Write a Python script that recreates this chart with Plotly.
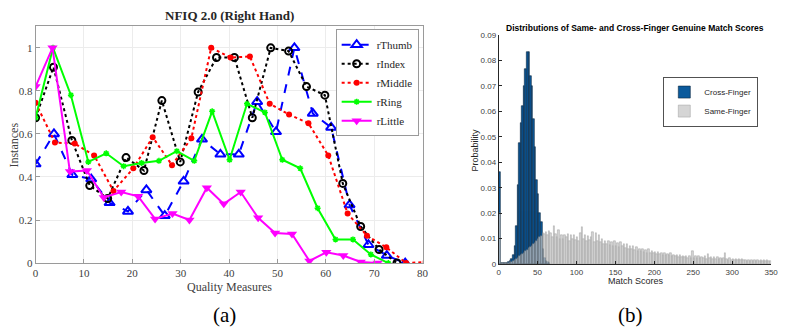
import plotly.graph_objects as go

# ---------------- (a) NFIQ 2.0 data ----------------
thumb_x = [0, 3.8, 7.6, 11.5, 15.3, 19.1, 22.9, 26.7, 30.6, 34.4, 38.2, 42.0, 45.8, 49.7, 53.5, 57.3, 61.1, 64.9, 68.8, 72.6, 76.4]
thumb_y = [0.46, 0.60, 0.41, 0.39, 0.28, 0.24, 0.34, 0.22, 0.38, 0.575, 0.505, 0.505, 0.75, 0.61, 1.0, 0.695, 0.63, 0.27, 0.085, 0.035, 0.0]

index_x = [0, 3.7, 7.5, 11.2, 14.9, 18.7, 22.4, 26.1, 29.9, 33.6, 37.4, 41.1, 44.8, 48.6, 52.3, 56.0, 59.8, 63.5, 67.2, 71.0, 74.7]
index_y = [0.675, 0.91, 0.57, 0.36, 0.30, 0.49, 0.43, 0.755, 0.47, 0.795, 0.955, 0.955, 0.675, 1.0, 0.985, 0.82, 0.78, 0.37, 0.17, 0.063, 0.0]

middle_x = [0, 4.0, 8.1, 12.1, 16.1, 20.2, 24.2, 28.2, 32.2, 36.3, 40.3, 44.3, 48.4, 52.4, 56.4, 60.5, 64.5, 68.5, 72.5, 76.6, 80.6]
middle_y = [0.745, 0.56, 0.555, 0.50, 0.335, 0.44, 0.585, 0.455, 0.58, 1.0, 0.955, 0.96, 0.74, 0.69, 0.65, 0.50, 0.23, 0.127, 0.073, 0.0, 0.005]

ring_x = [0, 3.6, 7.3, 10.9, 14.6, 18.2, 21.9, 25.5, 29.2, 32.8, 36.5, 40.1, 43.7, 47.4, 51.0, 54.7, 58.3, 62.0, 65.6, 69.3, 72.9]
ring_y = [0.675, 1.0, 0.78, 0.47, 0.51, 0.45, 0.465, 0.475, 0.52, 0.475, 0.705, 0.48, 0.74, 0.70, 0.48, 0.44, 0.255, 0.11, 0.11, 0.04, 0.0]

little_x = [0, 3.5, 7.1, 10.6, 14.1, 17.7, 21.2, 24.7, 28.3, 31.8, 35.4, 38.9, 42.4, 46.0, 49.5, 53.0, 56.6, 60.1, 63.6, 67.2, 70.7]
little_y = [0.82, 1.0, 0.425, 0.43, 0.305, 0.33, 0.31, 0.205, 0.23, 0.20, 0.35, 0.275, 0.33, 0.21, 0.14, 0.135, 0.01, 0.05, 0.035, 0.005, 0.0]

# ---------------- (b) Histogram data (bin width 2) ----------------
cross_x = [1, 3, 5, 7, 9, 11, 13, 15, 17, 19, 21, 23, 25, 27, 29, 31, 33, 35, 37, 39,
           41, 43, 45, 47, 49, 51, 53, 55, 57, 59, 61, 63, 65]
cross_y = [0.036, 0.0004, 0.0003, 0.0003, 0.0003, 0.0004, 0.0006, 0.0010, 0.0018, 0.0035,
           0.0070, 0.0150, 0.0310, 0.0475, 0.0555, 0.0620, 0.0700, 0.0765, 0.0835, 0.0835,
           0.0740, 0.0700, 0.0570, 0.0460, 0.0330, 0.0275, 0.0200, 0.0165, 0.0060, 0.0025,
           0.0012, 0.0006, 0.0003]

same_x = [1, 3, 5, 7, 9, 11, 13, 15, 17, 19, 21, 23, 25, 27, 29, 31, 33, 35, 37, 39,
          41, 43, 45, 47, 49, 51, 53, 55, 57, 59, 61, 63, 65, 67, 69, 71, 73, 75, 77, 79,
          81, 83, 85, 87, 89, 91, 93, 95, 97, 99, 101, 103, 105, 107, 109, 111, 113, 115, 117, 119,
          121, 123, 125, 127, 129, 131, 133, 135, 137, 139, 141, 143, 145, 147, 149, 151, 153, 155, 157, 159,
          161, 163, 165, 167, 169, 171, 173, 175, 177, 179, 181, 183, 185, 187, 189, 191, 193, 195, 197, 199,
          201, 203, 205, 207, 209, 211, 213, 215, 217, 219, 221, 223, 225, 227, 229, 231, 233, 235, 237, 239,
          241, 243, 245, 247, 249, 251, 253, 255, 257, 259, 261, 263, 265, 267, 269, 271, 273, 275, 277, 279,
          281, 283, 285, 287, 289, 291, 293, 295, 297, 299, 301, 303, 305, 307, 309, 311, 313, 315, 317, 319,
          321, 323, 325, 327, 329, 331, 333, 335, 337, 339, 341, 343, 345, 347, 349]
same_y = [0.020, 0.0002, 0.0002, 0.0002, 0.0003, 0.0004, 0.0005, 0.0007, 0.0009, 0.0012,
          0.0016, 0.0020, 0.0025, 0.0030, 0.0034, 0.0040, 0.0045, 0.0050, 0.0056, 0.0062,
          0.0066, 0.0072, 0.0078, 0.0084, 0.0090, 0.0098, 0.0105, 0.0110, 0.0120, 0.0118,
          0.0125, 0.0112, 0.0130, 0.0120, 0.0108, 0.0150, 0.0118, 0.0105, 0.0135, 0.0100,
          0.0112, 0.0098, 0.0115, 0.0105, 0.0118, 0.0092, 0.0112, 0.0100, 0.0115, 0.0095,
          0.0108, 0.0092, 0.0120, 0.0145, 0.0098, 0.0112, 0.0090, 0.0110, 0.0095, 0.0105,
          0.0125, 0.0088, 0.0120, 0.0092, 0.0115, 0.0085, 0.0098, 0.0080, 0.0092, 0.0078,
          0.0090, 0.0075, 0.0085, 0.0070, 0.0090, 0.0072, 0.0082, 0.0068, 0.0086, 0.0070,
          0.0080, 0.0062, 0.0078, 0.0060, 0.0072, 0.0058, 0.0070, 0.0055, 0.0065, 0.0052,
          0.0060, 0.0050, 0.0058, 0.0048, 0.0055, 0.0045, 0.0058, 0.0044, 0.0050, 0.0042,
          0.0048, 0.0040, 0.0046, 0.0038, 0.0045, 0.0036, 0.0044, 0.0035, 0.0040, 0.0034,
          0.0045, 0.0032, 0.0036, 0.0030, 0.0035, 0.0028, 0.0034, 0.0027, 0.0032, 0.0026,
          0.0030, 0.0025, 0.0032, 0.0024, 0.0050, 0.0025, 0.0030, 0.0023, 0.0030, 0.0022,
          0.0028, 0.0022, 0.0032, 0.0021, 0.0038, 0.0022, 0.0028, 0.0020, 0.0026, 0.0020,
          0.0028, 0.0019, 0.0025, 0.0018, 0.0024, 0.0042, 0.0020, 0.0017, 0.0022, 0.0016,
          0.0020, 0.0015, 0.0019, 0.0015, 0.0020, 0.0014, 0.0018, 0.0014, 0.0017, 0.0013,
          0.0017, 0.0013, 0.0016, 0.0012, 0.0016, 0.0012, 0.0015, 0.0012, 0.0014, 0.0011,
          0.0015, 0.0011, 0.0014, 0.0010, 0.0013]

W, H = 788, 336
SERIF = "Liberation Serif"
SANS = "Liberation Sans"


def px_x(p):
    return p / W


def px_y(p):
    return 1 - p / H


fig = go.Figure()

# ---- left chart traces ----
fig.add_trace(go.Scatter(x=thumb_x, y=thumb_y, name="rThumb", mode="lines+markers",
                         line=dict(color="#0000ff", width=2, dash="dash"),
                         marker=dict(symbol="triangle-up-open", size=9, color="#0000ff",
                                     line=dict(width=2, color="#0000ff")),
                         xaxis="x", yaxis="y", legend="legend"))
fig.add_trace(go.Scatter(x=index_x, y=index_y, name="rIndex", mode="lines+markers",
                         line=dict(color="#000000", width=2, dash="dot"),
                         marker=dict(symbol="circle-open", size=7, color="#000000",
                                     line=dict(width=2, color="#000000")),
                         xaxis="x", yaxis="y", legend="legend"))
fig.add_trace(go.Scatter(x=middle_x, y=middle_y, name="rMiddle", mode="lines+markers",
                         line=dict(color="#ff0000", width=2, dash="dot"),
                         marker=dict(symbol="circle", size=6, color="#ff0000"),
                         xaxis="x", yaxis="y", legend="legend"))
fig.add_trace(go.Scatter(x=ring_x, y=ring_y, name="rRing", mode="lines+markers",
                         line=dict(color="#00ff00", width=2),
                         marker=dict(symbol="asterisk-open", size=5, color="#00ff00",
                                     line=dict(width=1.5, color="#00ff00")),
                         xaxis="x", yaxis="y", legend="legend"))
fig.add_trace(go.Scatter(x=little_x, y=little_y, name="rLittle", mode="lines+markers",
                         line=dict(color="#ff00ff", width=2),
                         marker=dict(symbol="triangle-down", size=9, color="#ff00ff"),
                         xaxis="x", yaxis="y", legend="legend"))

# ---- right chart traces ----
fig.add_trace(go.Bar(x=cross_x, y=cross_y, width=2, name="Cross-Finger",
                     marker=dict(color="#0a5a9c", line=dict(color="#0b2740", width=0.6)),
                     xaxis="x2", yaxis="y2", legend="legend2"))
fig.add_trace(go.Bar(x=same_x, y=same_y, width=2, name="Same-Finger",
                     marker=dict(color="#c8c8c8", line=dict(color="#7e7e7e", width=0.5)),
                     opacity=0.75, xaxis="x2", yaxis="y2", legend="legend2"))

tickfont_a = dict(family=SERIF, size=11, color="#404040")
tickfont_b = dict(family=SANS, size=8, color="#404040")

fig.update_layout(
    width=W, height=H,
    margin=dict(l=0, r=0, t=0, b=0),
    paper_bgcolor="white", plot_bgcolor="white",
    barmode="overlay", bargap=0,
    showlegend=True,
    xaxis=dict(domain=[px_x(33), px_x(425)], range=[0, 80], tickvals=[0, 10, 20, 30, 40, 50, 60, 70, 80],
               showgrid=True, gridcolor="#ececec", gridwidth=1, zeroline=False,
               showline=True, linecolor="#9a9a9a", linewidth=1, mirror=True,
               ticks="inside", ticklen=4, tickcolor="#9a9a9a", tickfont=tickfont_a, anchor="y"),
    yaxis=dict(domain=[px_y(267), px_y(23)], range=[0, 1.1], tickvals=[0, 0.2, 0.4, 0.6, 0.8, 1],
               ticktext=["0", "0.2", "0.4", "0.6", "0.8", "1"],
               showgrid=True, gridcolor="#ececec", gridwidth=1, zeroline=False,
               showline=True, linecolor="#9a9a9a", linewidth=1, mirror=True,
               ticks="inside", ticklen=4, tickcolor="#9a9a9a", tickfont=tickfont_a, anchor="x"),
    xaxis2=dict(domain=[px_x(502), px_x(778)], range=[0, 350],
                tickvals=[0, 50, 100, 150, 200, 250, 300, 350],
                showgrid=False, zeroline=False, showline=True, linecolor="#262626", linewidth=0.8,
                ticks="inside", ticklen=3, tickcolor="#262626", tickfont=tickfont_b, anchor="y2"),
    yaxis2=dict(domain=[px_y(268), px_y(32)], range=[0, 0.09],
                tickvals=[0, 0.01, 0.02, 0.03, 0.04, 0.05, 0.06, 0.07, 0.08, 0.09],
                ticktext=["0", "0.01", "0.02", "0.03", "0.04", "0.05", "0.06", "0.07", "0.08", "0.09"],
                showgrid=False, zeroline=False, showline=True, linecolor="#262626", linewidth=0.8,
                ticks="inside", ticklen=3, tickcolor="#262626", tickfont=tickfont_b, anchor="x2"),
    legend=dict(x=px_x(421), y=px_y(26), xanchor="right", yanchor="top",
                bgcolor="white", bordercolor="#9a9a9a", borderwidth=1,
                font=dict(family=SERIF, size=11, color="#262626"),
                tracegroupgap=0, itemwidth=30),
    legend2=dict(x=px_x(669), y=px_y(75), xanchor="left", yanchor="top",
                 bgcolor="white", bordercolor="#262626", borderwidth=0.8,
                 font=dict(family=SANS, size=8, color="#262626"),
                 tracegroupgap=0, itemwidth=30),
)

annotations = [
    dict(text="<b>NFIQ 2.0 (Right Hand)</b>", x=px_x(229), y=px_y(12), xref="paper", yref="paper",
         showarrow=False, font=dict(family=SERIF, size=13, color="#262626"), xanchor="center", yanchor="middle"),
    dict(text="Quality Measures", x=px_x(229), y=px_y(292), xref="paper", yref="paper",
         showarrow=False, font=dict(family=SERIF, size=12, color="#404040"), xanchor="center", yanchor="middle"),
    dict(text="Instances", x=px_x(11), y=px_y(145), xref="paper", yref="paper", textangle=-90,
         showarrow=False, font=dict(family=SERIF, size=12, color="#404040"), xanchor="center", yanchor="middle"),
    dict(text="(a)", x=px_x(224), y=px_y(321), xref="paper", yref="paper",
         showarrow=False, font=dict(family=SERIF, size=21, color="#000000"), xanchor="center", yanchor="middle"),
    dict(text="<b>Distributions of Same- and Cross-Finger Genuine Match Scores</b>", x=px_x(640), y=px_y(25),
         xref="paper", yref="paper", showarrow=False, font=dict(family=SANS, size=8.5, color="#000000"),
         xanchor="center", yanchor="middle"),
    dict(text="Match Scores", x=px_x(641), y=px_y(286), xref="paper", yref="paper",
         showarrow=False, font=dict(family=SANS, size=9, color="#262626"), xanchor="center", yanchor="middle"),
    dict(text="Probability", x=px_x(478), y=px_y(150), xref="paper", yref="paper", textangle=-90,
         showarrow=False, font=dict(family=SANS, size=9, color="#262626"), xanchor="center", yanchor="middle"),
    dict(text="(b)", x=px_x(636), y=px_y(321), xref="paper", yref="paper",
         showarrow=False, font=dict(family=SERIF, size=21, color="#000000"), xanchor="center", yanchor="middle"),
]
fig.update_layout(annotations=annotations)

fig.write_html("out.html", config={"displayModeBar": False},
               post_script="document.body.style.margin='0';document.body.style.overflow='hidden';")
